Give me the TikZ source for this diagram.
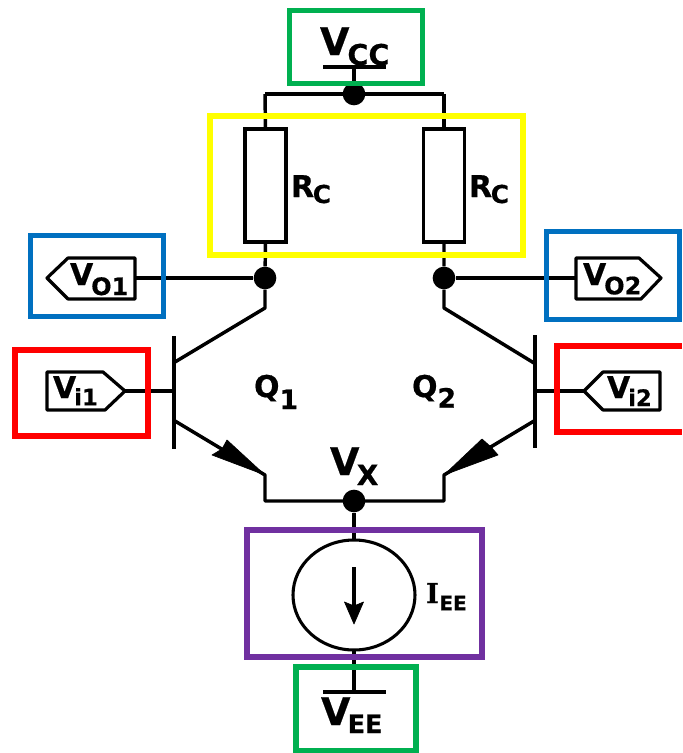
\documentclass[tikz,border=0pt]{standalone}
\usepackage{fontspec}
\setmainfont{DejaVu Sans}[BoldFeatures={FakeBold=0.6}]
\newfontfamily\serifb{DejaVu Serif}[BoldFeatures={FakeBold=0.6}]
\usetikzlibrary{shapes.geometric}
\definecolor{bluebox}{HTML}{0070C0}
\definecolor{redbox}{HTML}{FF0000}
\definecolor{greenbox}{HTML}{00B050}
\definecolor{yellowbox}{HTML}{FFFF00}
\definecolor{purplebox}{HTML}{7030A0}
% main letter, main size, subscript, sub size, kern (pt), drop (pt)
\newcommand\sublab[6]{{\bfseries\fontsize{#2}{#2}\selectfont #1\hspace{#5pt}\raisebox{-#6pt}{\fontsize{#4}{#4}\selectfont #3}}}
\tikzset{
  wire/.style={draw=black,line width=2.6pt,line join=round},
  thinwire/.style={draw=black,line width=2.3pt,line join=round},
  framebox/.style={line width=3.8pt,fill=none,line join=miter},
  junction/.style={circle,fill=black,draw=none,minimum size=17pt,inner sep=0pt},
  resistor/.style={rectangle,draw=black,line width=2.4pt,fill=none,minimum width=30.75pt,minimum height=84.75pt,inner sep=0pt,outer sep=0pt},
  source/.style={ellipse,draw=black,line width=2.3pt,minimum width=91.5pt,minimum height=82.5pt,inner sep=0pt,outer sep=0pt},
  lab/.style={anchor=base west,inner sep=0pt,outer sep=0pt,text=black},
  tagshape/.style={draw=black,line width=2.4pt,line join=round},
  tip/.style={fill=black,draw=black,line width=.5pt,line join=round},
}
\begin{document}
\begin{tikzpicture}[x=0.75pt,y=-0.75pt]
\useasboundingbox (0,0) rectangle (682,753);
% anchors
\node[junction] (top) at (354,94) {};
\node[junction] (c1) at (265,278) {};
\node[junction] (c2) at (444,278) {};
\node[junction] (vx) at (354,501) {};
\node[resistor] (r1) at (265.5,185.5) {};
\node[resistor] (r2) at (444,185.5) {};
\node[source] (src) at (354,595) {};
\coordinate (vccbarl) at (323,67); \coordinate (vccbarr) at (386,67); \coordinate (vccm) at (354,67);
\coordinate (veebarl) at (323,692); \coordinate (veebarr) at (386,692); \coordinate (veem) at (354,692);
\coordinate (bus1) at (265,94); \coordinate (bus2) at (444,94);
\coordinate (k1) at (265,308); \coordinate (k2) at (444,308);
\coordinate (b1t) at (174,336); \coordinate (b1b) at (174,449);
\coordinate (b2t) at (535,335); \coordinate (b2b) at (535,448);
\coordinate (col1) at (175,362); \coordinate (col2) at (534,363);
\coordinate (em1) at (175,421); \coordinate (em2) at (534,421);
\coordinate (base1) at (174,391); \coordinate (base2) at (535,391);
\coordinate (et1) at (265,475); \coordinate (et2) at (444,475);
\coordinate (eb1) at (265,501); \coordinate (eb2) at (444,501);
\coordinate (vo1p) at (135,278); \coordinate (vo2p) at (576,278);
\coordinate (vi1p) at (125,391); \coordinate (vi2p) at (584,391);
% wires
\draw[wire] (bus1) -- (bus2);
\draw[wire] (bus1) -- (r1.north);
\draw[wire] (bus2) -- (r2.north);
\draw[thinwire] (vccm) -- (top);
\draw[thinwire] (vccbarl) -- (vccbarr);
\draw[wire] (r1.south) -- (c1) -- (k1) -- (col1);
\draw[wire] (r2.south) -- (c2) -- (k2) -- (col2);
\draw[wire] (vo1p) -- (c1);
\draw[wire] (c2) -- (vo2p);
\draw[wire] (b1t) -- (b1b);
\draw[wire] (b2t) -- (b2b);
\draw[wire] (vi1p) -- (base1);
\draw[wire] (base2) -- (vi2p);
\draw[wire] (em1) -- (et1) -- (eb1) -- (eb2) -- (et2) -- (em2);
\draw[wire] (vx) -- (src.north);
\draw[wire] (src.south) -- (veem);
\draw[thinwire] (veebarl) -- (veebarr);
% emitter and current arrowheads
\fill[tip] (et1) -- (227,440) -- (222,449) -- (212,455) -- cycle;
\fill[tip] (et2) -- (482,439) -- (491,447) -- (498,455) -- cycle;
\coordinate (iup) at (354,567); \coordinate (itip) at (354,624);
\draw[thinwire] (iup) -- (354,610);
\fill[tip] (itip) -- (344.5,602) -- (354,606) -- (363.5,602) -- cycle;
% port tags
\draw[tagshape] (47,278) -- (68,258) -- (135,258) -- (135,299) -- (68,299) -- cycle;
\draw[tagshape] (47,372) -- (103,372) -- (125,391) -- (105,410) -- (47,410) -- cycle;
\draw[tagshape] (576,258) -- (639,258) -- (661,278) -- (641,299) -- (576,299) -- cycle;
\draw[tagshape] (584,391) -- (603,372) -- (660,372) -- (660,410) -- (603,410) -- cycle;
% coloured frames
\draw[framebox,greenbox] (289.5,10.5) rectangle (422.5,83.5);
\draw[framebox,yellowbox] (210,116) rectangle (523,255);
\draw[framebox,bluebox] (30.5,235.5) rectangle (163.5,316.5);
\draw[framebox,bluebox] (546.5,231.5) rectangle (679.5,319.5);
\draw[framebox,redbox] (15,350) rectangle (148,436);
\draw[framebox,redbox] (682,346) -- (557,346) -- (557,432) -- (682,432);
\draw[framebox,purplebox] (247,530) rectangle (482,657);
\draw[framebox,greenbox] (296,667) rectangle (416,751);
% labels
\node[lab] (tvcc) at (320,55) {\sublab{V}{28.5}{CC}{21.5}{-1.5}{7.5}};
\node[lab] (tr1) at (291,197) {\sublab{R}{22.5}{C}{18.5}{-1}{4.5}};
\node[lab] (tr2) at (469,197) {\sublab{R}{22.5}{C}{18.5}{-1}{4.5}};
\node[lab] (tvo1) at (70,285) {\sublab{V}{22.5}{O1}{18}{-1.5}{7.5}};
\node[lab] (tvo2) at (583,285) {\sublab{V}{22.5}{O2}{18}{-1.5}{7}};
\node[lab] (tvi1) at (53,398) {\sublab{V}{22.5}{i1}{17}{-1.5}{5.5}};
\node[lab] (tvi2) at (607,398) {\sublab{V}{22.5}{i2}{17}{-1.5}{6}};
\node[lab] (tq1) at (254,397) {\sublab{Q}{22.5}{1}{20}{0}{9}};
\node[lab] (tq2) at (412,397) {\sublab{Q}{22.5}{2}{20}{0}{8}};
\node[lab] (tvx) at (330,475) {\sublab{V}{28.5}{X}{21}{-2}{7.5}};
\node[lab] (tiee) at (426,603) {{\serifb\bfseries\fontsize{20.5}{20.5}\selectfont I}\hspace{0.5pt}\raisebox{-5.5pt}{\bfseries\fontsize{15}{15}\selectfont EE}};
\node[lab] (tvee) at (321,725) {\sublab{V}{28.5}{EE}{19}{-2}{6}};
\end{tikzpicture}
\end{document}
